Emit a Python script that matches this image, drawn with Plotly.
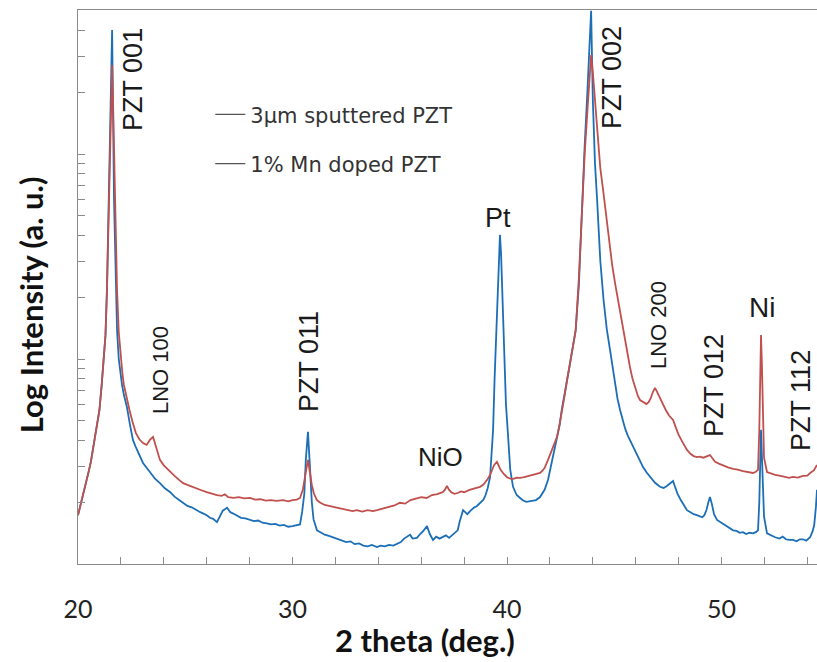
import plotly.graph_objects as go

# ---------------- data ----------------
theta_sputtered = [
    20.00, 20.10, 20.20, 20.30, 20.40, 20.50, 20.60, 20.70, 20.80, 20.90,
    21.00, 21.10, 21.20, 21.28, 21.35, 21.45, 21.52, 21.59, 21.68, 21.75,
    21.82, 21.90, 21.96, 22.05, 22.14, 22.28, 22.42, 22.56, 22.68, 22.80,
    22.92, 23.03, 23.20, 23.40, 23.60, 23.82, 24.05, 24.30, 24.50, 24.70,
    24.90, 25.10, 25.30, 25.50, 25.70, 25.85, 26.00, 26.15, 26.30, 26.48,
    26.60, 26.75, 26.95, 27.10, 27.30, 27.45, 27.60, 27.80, 28.00, 28.20,
    28.40, 28.60, 28.80, 29.00, 29.20, 29.40, 29.60, 29.80, 30.00, 30.20,
    30.35, 30.45, 30.55, 30.62, 30.72, 30.82, 30.90, 30.98, 31.14, 31.30,
    31.50, 31.70, 31.89, 32.10, 32.30, 32.50, 32.70, 32.90, 33.10, 33.30,
    33.50, 33.70, 33.94, 34.10, 34.30, 34.50, 34.70, 34.90, 35.05, 35.20,
    35.35, 35.48, 35.60, 35.80, 35.95, 36.10, 36.27, 36.40, 36.55, 36.70,
    36.85, 37.00, 37.15, 37.30, 37.48, 37.60, 37.70, 37.80, 37.88, 37.95,
    38.05, 38.15, 38.30, 38.45, 38.60, 38.74, 38.90, 39.00, 39.10, 39.21,
    39.28, 39.35, 39.42, 39.50, 39.56, 39.62, 39.67, 39.72, 39.78, 39.84,
    39.90, 39.95, 40.00, 40.07, 40.15, 40.28, 40.45, 40.61, 40.75, 40.90,
    41.07, 41.20, 41.35, 41.54, 41.65, 41.75, 41.91, 42.00, 42.10, 42.20,
    42.33, 42.45, 42.55, 42.68, 42.80, 42.92, 43.05, 43.20, 43.35, 43.50,
    43.62, 43.75, 43.85, 43.92, 44.00, 44.10, 44.20, 44.35, 44.50, 44.65,
    44.80, 45.00, 45.15, 45.27, 45.40, 45.50, 45.62, 45.73, 45.85, 46.00,
    46.17, 46.34, 46.50, 46.70, 46.90, 47.13, 47.30, 47.45, 47.60, 47.74,
    47.85, 47.95, 48.10, 48.25, 48.39, 48.55, 48.70, 48.85, 48.99, 49.10,
    49.20, 49.30, 49.38, 49.46, 49.55, 49.65, 49.79, 49.95, 50.10, 50.25,
    50.40, 50.54, 50.70, 50.85, 51.00, 51.15, 51.30, 51.47, 51.60, 51.70,
    51.76, 51.80, 51.84, 51.88, 51.92, 51.98, 52.12, 52.30, 52.50, 52.70,
    52.85, 53.00, 53.15, 53.33, 53.50, 53.65, 53.80, 53.95, 54.13, 54.25,
    54.32, 54.40, 54.45,
]
intensity_sputtered = [
    17.3, 19.0, 21.2, 23.0, 25.7, 28.3, 31.5, 36.5, 42.6, 48.5,
    56.4, 74.0, 98.9, 130, 217, 667, 1800, 4027, 597, 250,
    138, 100, 88.3, 75.0, 66.7, 58.3, 48.0, 40.3, 37.5, 35.2,
    32.6, 31.1, 29.5, 27.8, 26.0, 24.8, 23.4, 22.4, 21.3, 20.6,
    19.9, 19.2, 18.9, 18.3, 17.9, 17.6, 17.3, 16.8, 16.6, 16.0,
    17.0, 18.2, 18.8, 17.9, 17.5, 17.2, 16.8, 16.7, 16.4, 16.2,
    16.3, 15.9, 15.8, 15.6, 15.7, 15.4, 15.5, 15.2, 15.3, 15.4,
    15.6, 18.0, 22.0, 32.2, 44.1, 28.8, 20.0, 16.5, 14.6, 14.3,
    13.9, 13.7, 13.5, 13.3, 13.0, 12.8, 12.9, 12.5, 12.6, 12.3,
    12.2, 12.4, 12.1, 12.3, 12.2, 12.4, 12.3, 12.6, 12.8, 13.3,
    13.6, 13.9, 13.3, 13.4, 14.0, 14.5, 15.3, 14.0, 13.1, 13.6,
    13.3, 13.5, 13.8, 13.4, 13.9, 14.3, 14.6, 16.2, 17.6, 18.3,
    17.9, 17.5, 18.2, 18.8, 19.2, 19.9, 20.6, 21.7, 23.5, 26.5,
    33.0, 45.1, 80.0, 138, 230, 340, 403, 330, 217, 130,
    79.0, 60.0, 50.4, 38.0, 28.8, 23.8, 21.7, 21.0, 20.4, 20.1,
    20.2, 20.4, 20.5, 21.2, 22.0, 23.0, 25.7, 28.3, 31.5, 35.5,
    40.3, 47.5, 56.4, 66.0, 79.0, 93.0, 111, 138, 230, 597,
    1100, 2051, 3500, 5000, 1834, 900, 597, 300, 194, 140,
    111, 79.0, 64.0, 56.4, 50.0, 46.0, 42.5, 40.3, 37.5, 35.2,
    32.5, 29.7, 28.0, 26.3, 24.9, 23.8, 23.5, 24.0, 24.8, 25.4,
    23.5, 22.0, 20.5, 19.3, 18.3, 17.9, 17.5, 17.3, 17.0, 16.9,
    17.3, 18.4, 19.9, 21.2, 19.6, 17.5, 16.4, 16.0, 15.6, 15.3,
    14.9, 14.6, 14.5, 14.2, 14.3, 14.0, 14.2, 14.1, 14.3, 14.6,
    20.0, 32.0, 45.1, 34.0, 23.0, 17.0, 14.1, 13.8, 13.5, 13.3,
    13.6, 13.2, 13.1, 13.1, 12.9, 13.2, 13.2, 13.0, 13.5, 14.5,
    15.5, 19.0, 23.0,
]

theta_mn_doped = [
    20.00, 20.10, 20.20, 20.30, 20.40, 20.50, 20.60, 20.70, 20.80, 20.90,
    21.00, 21.10, 21.20, 21.28, 21.35, 21.45, 21.52, 21.59, 21.65, 21.70,
    21.76, 21.82, 21.90, 22.00, 22.07, 22.14, 22.27, 22.40, 22.55, 22.70,
    22.86, 23.03, 23.20, 23.35, 23.50, 23.58, 23.65, 23.74, 23.82, 24.00,
    24.20, 24.35, 24.50, 24.70, 24.90, 25.10, 25.30, 25.50, 25.75, 26.00,
    26.25, 26.48, 26.70, 26.85, 27.00, 27.25, 27.50, 27.75, 28.02, 28.25,
    28.50, 28.75, 29.00, 29.25, 29.56, 29.80, 30.00, 30.20, 30.35, 30.48,
    30.58, 30.65, 30.72, 30.80, 30.90, 31.00, 31.14, 31.30, 31.50, 31.70,
    31.89, 32.10, 32.40, 32.60, 32.80, 33.00, 33.25, 33.50, 33.75, 33.94,
    34.20, 34.50, 34.75, 35.01, 35.25, 35.50, 35.75, 36.00, 36.25, 36.50,
    36.75, 37.00, 37.10, 37.20, 37.30, 37.40, 37.55, 37.70, 37.85, 38.00,
    38.25, 38.50, 38.74, 38.90, 39.00, 39.10, 39.21, 39.30, 39.40, 39.53,
    39.62, 39.70, 39.85, 40.00, 40.15, 40.30, 40.45, 40.61, 40.80, 41.07,
    41.30, 41.54, 41.65, 41.75, 41.91, 42.00, 42.10, 42.20, 42.33, 42.45,
    42.55, 42.68, 42.80, 42.92, 43.05, 43.20, 43.35, 43.50, 43.62, 43.75,
    43.85, 43.92, 44.00, 44.10, 44.25, 44.35, 44.48, 44.60, 44.75, 44.90,
    45.05, 45.15, 45.27, 45.40, 45.50, 45.62, 45.73, 45.85, 46.00, 46.10,
    46.20, 46.35, 46.50, 46.60, 46.70, 46.80, 46.90, 47.00, 47.13, 47.25,
    47.40, 47.55, 47.74, 47.88, 48.00, 48.20, 48.39, 48.55, 48.70, 48.85,
    48.99, 49.15, 49.30, 49.46, 49.60, 49.70, 49.90, 50.10, 50.30, 50.54,
    50.75, 51.00, 51.20, 51.47, 51.60, 51.70, 51.76, 51.80, 51.84, 51.88,
    51.92, 51.98, 52.12, 52.30, 52.50, 52.75, 53.00, 53.15, 53.33, 53.55,
    53.80, 54.00, 54.13, 54.30, 54.45,
]
intensity_mn_doped = [
    17.3, 19.0, 21.2, 23.0, 25.7, 28.3, 31.5, 36.5, 42.6, 48.5,
    56.4, 74.0, 98.9, 130, 217, 667, 1200, 2716, 1500, 835,
    420, 217, 135, 98.9, 85.0, 74.7, 64.0, 56.4, 49.0, 43.5,
    40.6, 38.9, 38.1, 40.3, 41.7, 39.0, 36.0, 34.0, 32.2, 30.3,
    28.8, 27.9, 26.9, 25.8, 24.8, 24.3, 23.8, 23.5, 22.9, 22.4,
    22.0, 21.7, 21.5, 21.9, 21.2, 21.0, 21.2, 20.9, 21.0, 20.6,
    20.7, 20.4, 20.5, 20.3, 20.5, 20.2, 20.5, 20.6, 21.0, 23.0,
    26.5, 30.0, 32.2, 28.5, 24.3, 22.0, 20.5, 19.9, 19.4, 19.2,
    19.0, 18.8, 18.5, 18.4, 18.1, 18.3, 18.0, 18.3, 18.1, 18.3,
    18.6, 19.0, 19.3, 19.9, 19.7, 20.5, 20.8, 21.2, 21.0, 21.7,
    21.9, 22.4, 23.0, 24.0, 23.0, 22.4, 22.0, 22.2, 22.6, 22.4,
    23.0, 23.5, 23.8, 24.4, 25.1, 26.0, 27.2, 28.6, 30.4, 31.5,
    30.0, 28.8, 27.5, 26.5, 26.1, 26.0, 26.4, 26.3, 26.5, 26.9,
    27.2, 27.8, 28.5, 29.4, 32.2, 34.0, 36.0, 38.5, 41.7, 48.0,
    56.4, 66.0, 79.0, 93.0, 111, 138, 250, 590, 1000, 1641,
    2400, 3040, 2500, 1834, 1100, 850, 667, 520, 380, 288,
    230, 200, 173, 145, 124, 105, 91.4, 80.0, 70.6, 66.0,
    63.1, 61.5, 60.3, 61.5, 64.5, 69.0, 72.3, 69.0, 64.5, 60.0,
    56.4, 53.0, 50.4, 46.0, 42.6, 39.0, 36.0, 34.5, 33.6, 33.2,
    33.4, 33.0, 33.6, 34.0, 32.5, 31.5, 30.8, 30.1, 29.6, 29.1,
    28.9, 28.4, 28.1, 27.8, 28.2, 28.8, 45.0, 90.0, 131, 95.0,
    50.4, 33.0, 28.1, 27.6, 27.2, 26.9, 26.6, 26.3, 26.6, 26.4,
    26.9, 27.0, 27.8, 28.6, 30.4,
]

series_names = ["3\u00b5m sputtered PZT", "1% Mn doped PZT"]
x_title = "2 theta (deg.)"
y_title = "Log Intensity (a. u.)"

x_tick_values = [20, 30, 40, 50]
x_tick_labels = ["20", "30", "40", "50"]
y_tick_values = [20, 30, 40, 50, 60, 70, 80, 90,
                 100, 200, 300, 400, 500, 600, 700, 800, 900,
                 1000, 2000, 3000, 4000, 5000]

peak_labels = ["PZT 001", "LNO 100", "PZT 011", "NiO", "Pt",
               "PZT 002", "LNO 200", "PZT 012", "Ni", "PZT 112"]
# label anchor (2theta, log10 intensity) and orientation
label_theta = [22.56, 23.82, 30.77, 36.92, 39.58, 44.90, 47.09, 49.65, 51.89, 53.70]
label_logI = [3.366, 1.946, 1.985, 1.522, 2.688, 3.371, 2.166, 1.868, 2.249, 1.80]
label_angle = [-90, -90, -90, 0, 0, -90, -90, -90, 0, -90]
label_size = [27, 22, 27, 26, 27, 27, 22, 27, 28, 27]

# ---------------- figure ----------------
BLUE = "#1c6fb6"
RED = "#c0504d"
AXIS = "#8a8a8a"

fig = go.Figure()
fig.add_trace(go.Scatter(x=theta_sputtered, y=intensity_sputtered, mode="lines",
                         line=dict(color=BLUE, width=1.8), name=series_names[0],
                         showlegend=False))
fig.add_trace(go.Scatter(x=theta_mn_doped, y=intensity_mn_doped, mode="lines",
                         line=dict(color=RED, width=1.8), name=series_names[1],
                         showlegend=False))
# legend entries (dark grey keys, as in the reference)
for i, nm in enumerate(series_names):
    fig.add_trace(go.Scatter(x=[None], y=[None], mode="lines",
                             line=dict(color="#555555", width=1.2),
                             name=nm, legendgroup=f"g{i}", showlegend=True))

for txt, xv, yv, ang, sz in zip(peak_labels, label_theta, label_logI, label_angle, label_size):
    fig.add_annotation(x=xv, y=yv, xref="x", yref="y", text=txt, showarrow=False,
                       textangle=ang, xanchor="center", yanchor="middle",
                       font=dict(family="Liberation Sans, Arial", size=sz, color="#1a1a1a"))

# axis titles (placed as in the reference, which is off-centre)
fig.add_annotation(x=0.4696, y=-0.137, xref="paper", yref="paper",
                   text="<b>" + x_title + "</b>", showarrow=False,
                   xanchor="center", yanchor="middle",
                   font=dict(family="Lato", size=31, color="#111111"))
fig.add_annotation(x=-0.0636, y=0.469, xref="paper", yref="paper",
                   text="<b>" + y_title + "</b>", showarrow=False, textangle=-90,
                   xanchor="center", yanchor="middle",
                   font=dict(family="Lato", size=31, color="#111111"))

fig.update_layout(
    width=817, height=662,
    margin=dict(l=78, r=0, t=10, b=98),
    paper_bgcolor="white", plot_bgcolor="white",
    showlegend=True,
    legend=dict(x=0.179, y=0.848, xanchor="left", yanchor="top",
                bgcolor="rgba(0,0,0,0)", traceorder="grouped", tracegroupgap=19,
                font=dict(family="DejaVu Sans", size=21, color="#333333"),
                itemwidth=30),
)
fig.update_xaxes(
    range=[20, 54.45], showgrid=False, zeroline=False,
    showline=True, linecolor=AXIS, linewidth=1, mirror=True,
    tickmode="array", tickvals=x_tick_values, ticktext=x_tick_labels,
    ticks="inside", ticklen=7, tickcolor=AXIS,
    minor=dict(ticks="inside", dtick=2, ticklen=7, tickcolor=AXIS, showgrid=False),
    ticklabelstandoff=23,
    tickfont=dict(family="Lato", size=25, color="#222222"),
)
fig.update_yaxes(
    type="log", range=[1, 3.7025], showgrid=False, zeroline=False,
    showline=True, linecolor=AXIS, linewidth=1,
    tickmode="array", tickvals=y_tick_values, showticklabels=False,
    ticks="inside", ticklen=7, tickcolor=AXIS,
)

fig.write_html("out.html")
